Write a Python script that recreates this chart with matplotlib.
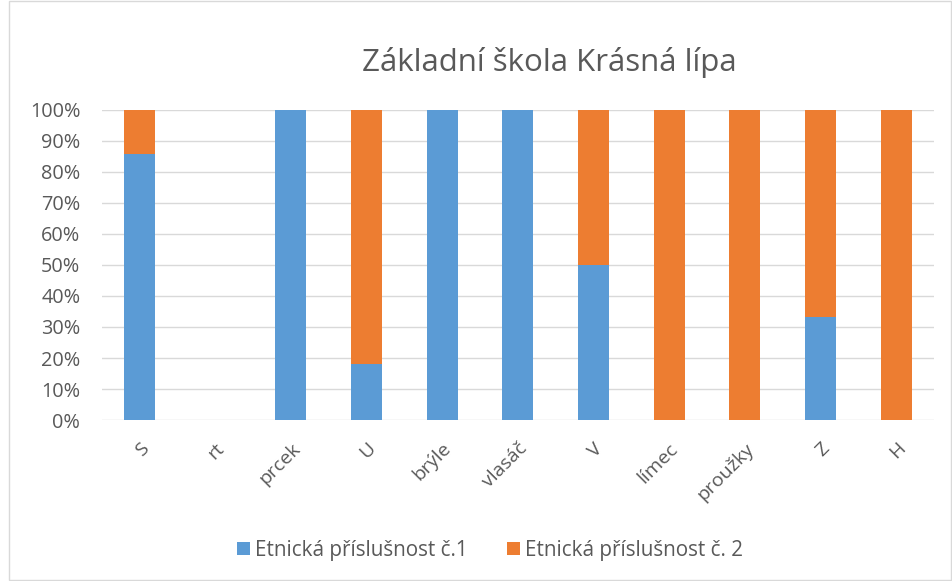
import matplotlib
matplotlib.use("Agg")
import matplotlib.pyplot as plt
from matplotlib.patches import Rectangle
from matplotlib.ticker import PercentFormatter
import numpy as np

categories = ["S", "rt", "prcek", "U", "brýle", "vlasáč", "V", "límec", "proužky", "Z", "H"]
series1_name = "Etnická příslušnost č.1"
series2_name = "Etnická příslušnost č. 2"
series1 = [6, 0, 1, 2, 1, 1, 1, 0, 0, 1, 0]
series2 = [1, 0, 0, 9, 0, 0, 1, 1, 1, 2, 1]
title = "Základní škola Krásná lípa"

plt.rcParams['font.family'] = ['Open Sans', 'DejaVu Sans']
txt = "#595959"

s1 = np.array(series1, float)
s2 = np.array(series2, float)
tot = s1 + s2
with np.errstate(invalid="ignore", divide="ignore"):
    p1 = np.where(tot > 0, s1 / tot * 100, 0)
    p2 = np.where(tot > 0, s2 / tot * 100, 0)

fig = plt.figure(figsize=(9.52, 5.81), dpi=100)
fig.patches.append(Rectangle((0.009, 0.002), 0.99, 0.997, transform=fig.transFigure,
                             fill=False, edgecolor="#d9d9d9", linewidth=1))
ax = fig.add_axes([0.107, 0.277, 0.874, 0.534])
x = np.arange(len(categories))
ax.bar(x, p1, width=0.41, color="#5b9bd5", label=series1_name, zorder=3)
ax.bar(x, p2, bottom=p1, width=0.41, color="#ed7d31", label=series2_name, zorder=3)

ax.set_xlim(-0.5, len(categories) - 0.5)
ax.set_ylim(0, 100)
ax.set_yticks(np.arange(0, 101, 10))
ax.yaxis.set_major_formatter(PercentFormatter(decimals=0))
ax.grid(axis="y", color="#d9d9d9", linewidth=1, zorder=0)
for s in ax.spines.values():
    s.set_visible(False)
ax.tick_params(axis="both", length=0, colors=txt)
ax.tick_params(axis="y", pad=15.5, labelsize=14.3)
ax.set_xticks(x)
ax.set_xticklabels(categories, rotation=45, ha="right", rotation_mode="anchor", fontsize=14)
ax.tick_params(axis="x", pad=14)

fig.text(0.577, 0.893, title, ha="center", va="center", fontsize=22.5, color=txt)

fig.legend(loc="center", bbox_to_anchor=(0.515, 0.053), ncol=2, frameon=False,
           fontsize=14.9, labelcolor=txt, handlelength=0.62, handleheight=0.62,
           handletextpad=0.25, columnspacing=1.9)

fig.savefig("out.png", dpi=100)
